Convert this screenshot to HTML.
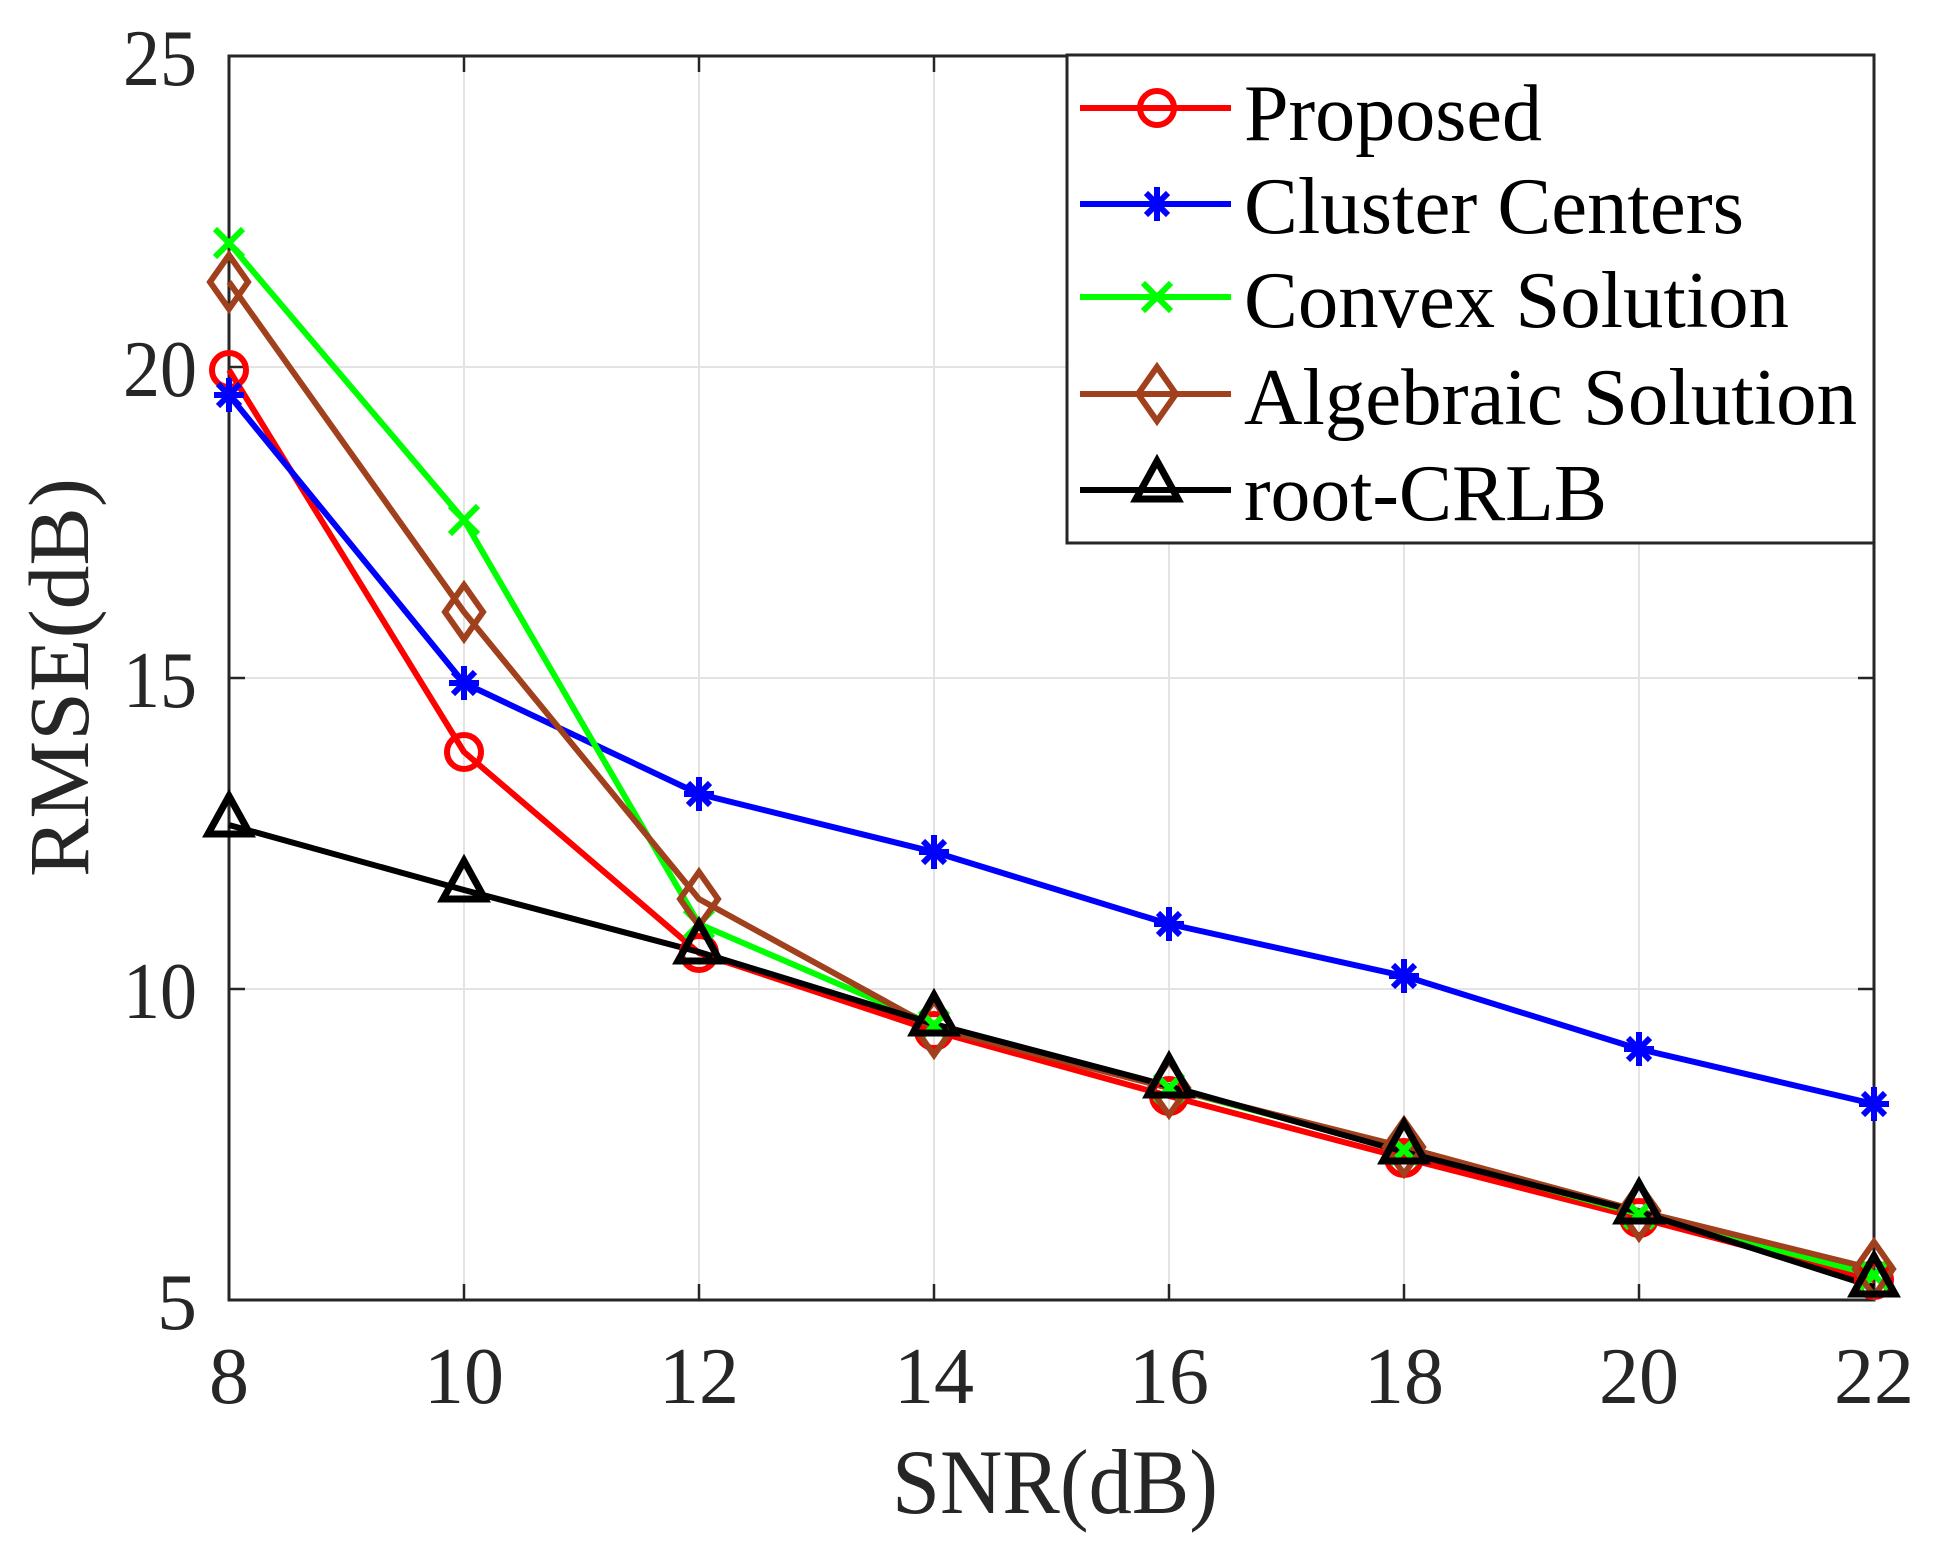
<!DOCTYPE html>
<html><head><meta charset="utf-8"><style>
html,body{margin:0;padding:0;background:#fff;}
svg{display:block;}
text{font-family:"Liberation Serif",serif;fill:#262626;}
</style></head><body>
<svg width="1939" height="1553" viewBox="0 0 1939 1553" xmlns="http://www.w3.org/2000/svg">
<defs>
<g id="mo"><circle r="17" fill="none" stroke="#ff0000" stroke-width="6"/></g>
<g id="ma" stroke="#0000ff" stroke-width="6"><line x1="-15" y1="0" x2="15" y2="0"/><line x1="0" y1="-17" x2="0" y2="17"/><line x1="-11" y1="-11" x2="11" y2="11"/><line x1="-11" y1="11" x2="11" y2="-11"/></g>
<g id="mx" stroke="#00ff00" stroke-width="6"><line x1="-14" y1="-14" x2="14" y2="14"/><line x1="-14" y1="14" x2="14" y2="-14"/></g>
<g id="md"><polygon points="0,-27 19,0 0,27 -19,0" fill="none" stroke="#a0401c" stroke-width="6"/></g>
<g id="mt"><polygon points="0,-24 21,14 -21,14" fill="none" stroke="#000" stroke-width="7"/></g>
</defs>
<g stroke="#e3e3e3" stroke-width="2">
<line x1="464" y1="56" x2="464" y2="1300"/><line x1="699" y1="56" x2="699" y2="1300"/><line x1="934" y1="56" x2="934" y2="1300"/><line x1="1169" y1="56" x2="1169" y2="1300"/><line x1="1404" y1="56" x2="1404" y2="1300"/><line x1="1639" y1="56" x2="1639" y2="1300"/>
<line x1="229" y1="367" x2="1874" y2="367"/><line x1="229" y1="678" x2="1874" y2="678"/><line x1="229" y1="989" x2="1874" y2="989"/>
</g>
<g stroke="#262626" stroke-width="2.5">
<line x1="464" y1="1300" x2="464" y2="1284"/><line x1="699" y1="1300" x2="699" y2="1284"/><line x1="934" y1="1300" x2="934" y2="1284"/><line x1="1169" y1="1300" x2="1169" y2="1284"/><line x1="1404" y1="1300" x2="1404" y2="1284"/><line x1="1639" y1="1300" x2="1639" y2="1284"/>
<line x1="464" y1="56" x2="464" y2="72"/><line x1="699" y1="56" x2="699" y2="72"/><line x1="934" y1="56" x2="934" y2="72"/><line x1="1169" y1="56" x2="1169" y2="72"/><line x1="1404" y1="56" x2="1404" y2="72"/><line x1="1639" y1="56" x2="1639" y2="72"/>
<line x1="229" y1="367" x2="245" y2="367"/><line x1="229" y1="678" x2="245" y2="678"/><line x1="229" y1="989" x2="245" y2="989"/>
<line x1="1874" y1="367" x2="1858" y2="367"/><line x1="1874" y1="678" x2="1858" y2="678"/><line x1="1874" y1="989" x2="1858" y2="989"/>
</g>
<rect x="229" y="56" width="1645" height="1244" fill="none" stroke="#262626" stroke-width="3"/>
<g font-size="80">
<text x="197" y="85" text-anchor="end" textLength="74" lengthAdjust="spacingAndGlyphs">25</text>
<text x="197" y="396" text-anchor="end" textLength="74" lengthAdjust="spacingAndGlyphs">20</text>
<text x="197" y="707" text-anchor="end" textLength="74" lengthAdjust="spacingAndGlyphs">15</text>
<text x="197" y="1018" text-anchor="end" textLength="74" lengthAdjust="spacingAndGlyphs">10</text>
<text x="197" y="1329" text-anchor="end">5</text>
<text x="229" y="1403" text-anchor="middle">8</text>
<text x="464" y="1403" text-anchor="middle">10</text>
<text x="699" y="1403" text-anchor="middle">12</text>
<text x="934" y="1403" text-anchor="middle">14</text>
<text x="1169" y="1403" text-anchor="middle">16</text>
<text x="1404" y="1403" text-anchor="middle">18</text>
<text x="1639" y="1403" text-anchor="middle">20</text>
<text x="1874" y="1403" text-anchor="middle">22</text>
</g>
<text x="892" y="1513" font-size="92" textLength="326" lengthAdjust="spacingAndGlyphs">SNR(dB)</text>
<text transform="translate(88,877) rotate(-90)" font-size="86" textLength="399" lengthAdjust="spacingAndGlyphs">RMSE(dB)</text>
<g fill="none" stroke-width="6" stroke-linejoin="round">
<polyline stroke="#ff0000" points="229,370 464,752 699,953 934,1031 1169,1096 1404,1158 1639,1218 1874,1280"/>
<polyline stroke="#0000ff" points="229,395 464,683 699,794 934,852 1169,924 1404,976 1639,1049 1874,1104"/>
<polyline stroke="#00ff00" points="229,243 464,520 699,924 934,1025 1169,1088 1404,1150 1639,1214 1874,1275"/>
<polyline stroke="#a0401c" points="229,282 464,612 699,899 934,1028 1169,1088 1404,1147 1639,1211 1874,1269"/>
<polyline stroke="#000" points="229,825 464,890 699,952 934,1024 1169,1086 1404,1152 1639,1212 1874,1287"/>
</g>
<g>
<use href="#mo" x="229" y="370"/><use href="#mo" x="464" y="752"/><use href="#mo" x="699" y="953"/><use href="#mo" x="934" y="1031"/><use href="#mo" x="1169" y="1096"/><use href="#mo" x="1404" y="1158"/><use href="#mo" x="1639" y="1218"/><use href="#mo" x="1874" y="1280"/>
<use href="#ma" x="229" y="395"/><use href="#ma" x="464" y="683"/><use href="#ma" x="699" y="794"/><use href="#ma" x="934" y="852"/><use href="#ma" x="1169" y="924"/><use href="#ma" x="1404" y="976"/><use href="#ma" x="1639" y="1049"/><use href="#ma" x="1874" y="1104"/>
<use href="#mx" x="229" y="243"/><use href="#mx" x="464" y="520"/><use href="#mx" x="699" y="924"/><use href="#mx" x="934" y="1025"/><use href="#mx" x="1169" y="1088"/><use href="#mx" x="1404" y="1150"/><use href="#mx" x="1639" y="1214"/><use href="#mx" x="1874" y="1275"/>
<use href="#md" x="229" y="282"/><use href="#md" x="464" y="612"/><use href="#md" x="699" y="899"/><use href="#md" x="934" y="1028"/><use href="#md" x="1169" y="1088"/><use href="#md" x="1404" y="1147"/><use href="#md" x="1639" y="1211"/><use href="#md" x="1874" y="1269"/>
<use href="#mt" x="229" y="820"/><use href="#mt" x="464" y="885"/><use href="#mt" x="699" y="947"/><use href="#mt" x="934" y="1019"/><use href="#mt" x="1169" y="1081"/><use href="#mt" x="1404" y="1147"/><use href="#mt" x="1639" y="1207"/><use href="#mt" x="1874" y="1280"/>
</g>
<rect x="1067" y="55" width="807" height="488" fill="#fff" stroke="#262626" stroke-width="3"/>
<g stroke-width="6">
<line x1="1080" y1="108" x2="1231" y2="108" stroke="#ff0000"/>
<line x1="1080" y1="204" x2="1231" y2="204" stroke="#0000ff"/>
<line x1="1080" y1="297" x2="1231" y2="297" stroke="#00ff00"/>
<line x1="1080" y1="394" x2="1231" y2="394" stroke="#a0401c"/>
<line x1="1080" y1="490" x2="1231" y2="490" stroke="#000"/>
</g>
<use href="#mo" x="1157" y="108"/><use href="#ma" x="1157" y="204"/><use href="#mx" x="1157" y="297"/><use href="#md" x="1157" y="394"/><use href="#mt" x="1157" y="485"/>
<g font-size="80">
<text x="1244" y="140" textLength="298" lengthAdjust="spacingAndGlyphs" style="fill:#000">Proposed</text>
<text x="1244" y="233" textLength="500" lengthAdjust="spacingAndGlyphs" style="fill:#000">Cluster Centers</text>
<text x="1244" y="327" textLength="545" lengthAdjust="spacingAndGlyphs" style="fill:#000">Convex Solution</text>
<text x="1244" y="424" textLength="613" lengthAdjust="spacingAndGlyphs" style="fill:#000">Algebraic Solution</text>
<text x="1244" y="520" textLength="363" lengthAdjust="spacingAndGlyphs" style="fill:#000">root-CRLB</text>
</g>
</svg>
</body></html>
